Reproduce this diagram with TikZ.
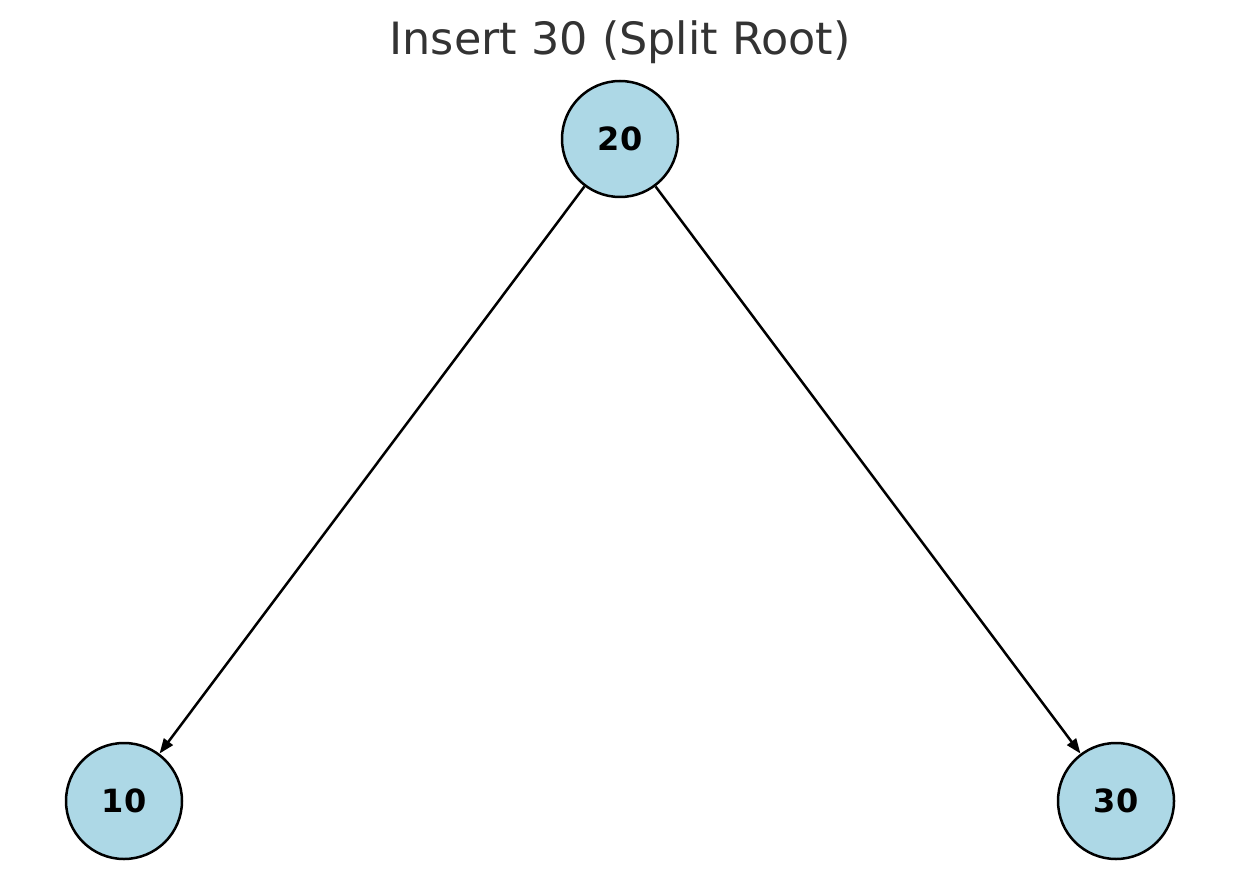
\documentclass[tikz,border=0pt]{standalone}
\usepackage{fontspec}
\setmainfont{DejaVu Sans}
\usetikzlibrary{arrows.meta}
\definecolor{nodefill}{HTML}{ADD8E6}
\definecolor{titlegray}{HTML}{333333}
\tikzset{
  treenode/.style={circle, draw=black, line width=2.5pt, fill=nodefill, minimum size=116pt, inner sep=0pt, font=\fontsize{32}{32}\selectfont\bfseries},
  edge/.style={line width=2.5pt, -{Triangle[length=15pt,width=11pt]}},
}
\begin{document}
\begin{tikzpicture}[x=1pt,y=-1pt]
\useasboundingbox (0,0) rectangle (1239,890);
\node[text=titlegray, font=\fontsize{44.5}{44.5}\selectfont] (title) at (620,42) {Insert 30 (Split Root)};
\node[treenode] (n20) at (620,139) {20};
\node[treenode] (n10) at (124,801) {10};
\node[treenode] (n30) at (1116,801) {30};
\draw[edge] (n20) -- (n10);
\draw[edge] (n20) -- (n30);
\end{tikzpicture}
\end{document}
